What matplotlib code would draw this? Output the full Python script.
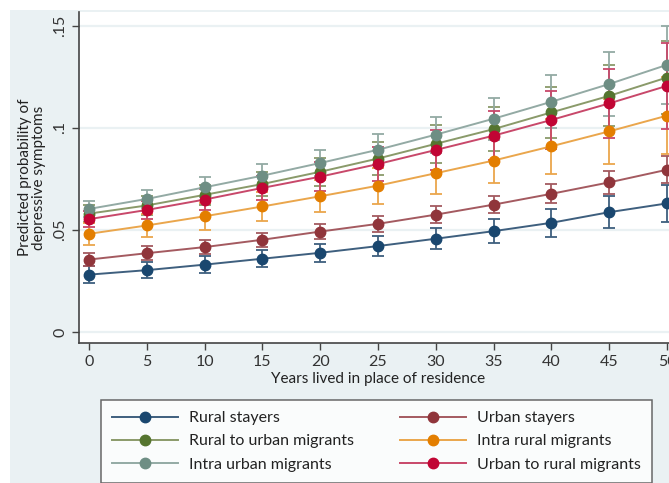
import matplotlib.pyplot as plt
from matplotlib.patches import Rectangle
from matplotlib.lines import Line2D

years = [0, 5, 10, 15, 20, 25, 30, 35, 40, 45, 50]

labels = ["Rural stayers", "Urban stayers", "Rural to urban migrants",
          "Intra rural migrants", "Intra urban migrants", "Urban to rural migrants"]

rural_stayers = [0.0281, 0.0303, 0.0330, 0.0359, 0.0388, 0.0421, 0.0457, 0.0494, 0.0535, 0.0587, 0.0630]
urban_stayers = [0.0355, 0.0386, 0.0416, 0.0452, 0.0492, 0.0530, 0.0575, 0.0624, 0.0677, 0.0733, 0.0795]
rural_to_urban = [0.0580, 0.0620, 0.0672, 0.0725, 0.0785, 0.0850, 0.0922, 0.0994, 0.1076, 0.1157, 0.1247]
intra_rural = [0.0481, 0.0522, 0.0567, 0.0615, 0.0665, 0.0717, 0.0778, 0.0840, 0.0910, 0.0983, 0.1060]
intra_urban = [0.0603, 0.0652, 0.0709, 0.0766, 0.0828, 0.0893, 0.0967, 0.1045, 0.1128, 0.1215, 0.1309]
urban_to_rural = [0.0553, 0.0598, 0.0649, 0.0706, 0.0761, 0.0823, 0.0892, 0.0962, 0.1039, 0.1120, 0.1206]

# half widths of the 95% CIs
ci_rural_stayers = [0.0040, 0.0040, 0.0040, 0.0041, 0.0045, 0.0048, 0.0052, 0.0060, 0.0070, 0.0078, 0.0090]
ci_urban_stayers = [0.0033, 0.0033, 0.0034, 0.0035, 0.0036, 0.0038, 0.0040, 0.0043, 0.0047, 0.0055, 0.0065]
ci_rural_to_urban = [0.0040, 0.0045, 0.0050, 0.0058, 0.0068, 0.0080, 0.0093, 0.0108, 0.0125, 0.0150, 0.0180]
ci_intra_rural = [0.0055, 0.0057, 0.0065, 0.0072, 0.0078, 0.0089, 0.0101, 0.0112, 0.0135, 0.0160, 0.0190]
ci_intra_urban = [0.0040, 0.0045, 0.0050, 0.0055, 0.0065, 0.0075, 0.0088, 0.0104, 0.0130, 0.0158, 0.0190]
ci_urban_to_rural = [0.0040, 0.0045, 0.0050, 0.0060, 0.0070, 0.0085, 0.0100, 0.0120, 0.0140, 0.0170, 0.0210]

series = [rural_stayers, urban_stayers, rural_to_urban, intra_rural, intra_urban, urban_to_rural]
cis = [ci_rural_stayers, ci_urban_stayers, ci_rural_to_urban, ci_intra_rural, ci_intra_urban, ci_urban_to_rural]
colors = ["#1a476f", "#90353b", "#55752f", "#e37e00", "#6e8e84", "#c10534"]
line_colors = ["#3e5f7e", "#a45a60", "#8a9a6a", "#eaa64c", "#93aaa4", "#c8486a"]

plt.rcParams['font.family'] = ['Lato', 'DejaVu Sans']
W, H = 669, 483
bg = "#eaf1f3"
dark = "#444444"

fig = plt.figure(figsize=(W / 100, H / 100), dpi=100, facecolor="white")
fig.patches.append(Rectangle((10 / W, 0), 1, (H - 10) / H, transform=fig.transFigure,
                             facecolor=bg, edgecolor="none", zorder=-10))

ax = fig.add_axes([79 / W, 1 - 343 / H, 598 / W, 331 / H])
ax.set_facecolor("white")
ax.set_xlim(-0.87, 50.87)
ax.set_ylim(-0.0054, 0.1568)

for vals, ci, c, lc in zip(series, cis, colors, line_colors):
    ax.errorbar(years, vals, yerr=ci, fmt="none", ecolor=lc, elinewidth=1.3,
                capsize=4, capthick=1.3, zorder=2)
    ax.plot(years, vals, color=lc, lw=1.4, zorder=3)
    ax.plot(years, vals, "o", color=c, ms=7.5, mec=c, zorder=4)

ax.set_yticks([0, 0.05, 0.1, 0.15])
ax.set_yticklabels(["0", ".05", ".1", ".15"], rotation=90, va="center")
ax.set_xticks(years)
ax.grid(axis="y", color=bg, lw=1.6)
ax.set_axisbelow(True)

for s in ["top", "right"]:
    ax.spines[s].set_visible(False)
for s in ["left", "bottom"]:
    ax.spines[s].set_color(dark)
    ax.spines[s].set_linewidth(1.2)
ax.tick_params(colors=dark, labelcolor="#333333", labelsize=11.5, length=5, width=1)

ax.set_xlabel("Years lived in place of residence", fontsize=11, color="#222222", labelpad=2)
ax.set_ylabel("Predicted probability of\ndepressive symptoms", fontsize=11,
              color="#222222", labelpad=5, linespacing=1.0)

# legend, filled column-wise so rows read like the original
handles = [Line2D([], [], color=lc, lw=1.4, marker="o", ms=7.5, mfc=c, mec=c)
           for c, lc in zip(colors, line_colors)]
order = [0, 2, 4, 1, 3, 5]
leg = fig.legend([handles[i] for i in order], [labels[i] for i in order],
                 ncol=2, loc="upper left", bbox_to_anchor=(101 / W, 1 - 400 / H),
                 fontsize=11.5, frameon=True, fancybox=False, borderaxespad=0,
                 handlelength=4.1, handletextpad=0.7, columnspacing=2.9,
                 labelspacing=0.56, borderpad=0.7)
leg.get_frame().set_edgecolor(dark)
leg.get_frame().set_linewidth(1.1)
for t in leg.get_texts():
    t.set_color("#222222")

fig.savefig("out.png", dpi=100, facecolor=fig.get_facecolor())
